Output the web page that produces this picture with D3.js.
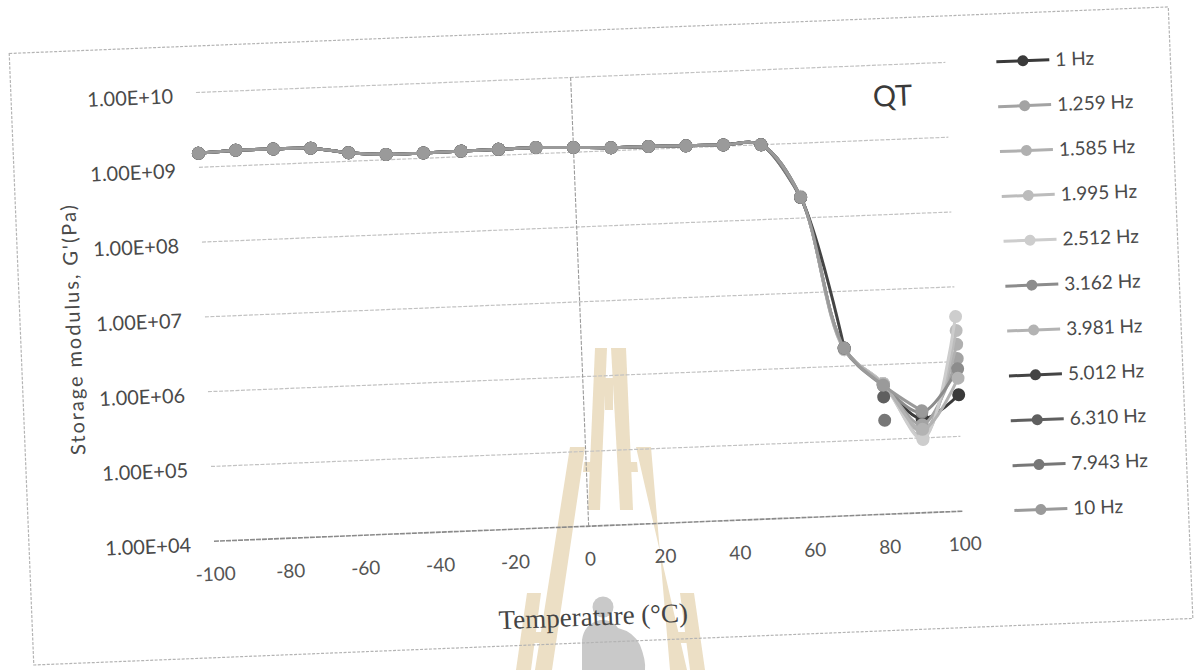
<!DOCTYPE html>
<html>
<head>
<meta charset="utf-8">
<script src="https://cdn.jsdelivr.net/npm/d3@7"></script>
<style>
  html, body { margin: 0; padding: 0; background: #fff; }
  svg { display: block; }
</style>
</head>
<body>
<svg id="chart" width="1199" height="670"></svg>
<script>
// Temperature sweep (°C)
const temps = [-100, -90, -80, -70, -60, -50, -40, -30, -20, -10, 0, 10, 20, 30, 40, 50, 60, 70, 80, 90, 100];

// Storage modulus G' (Pa) per test frequency; null = no reading
const g1Hz    = [1.54e9, 1.62e9, 1.60e9, 1.57e9, 1.30e9, 1.18e9, 1.18e9, 1.19e9, 1.20e9, 1.21e9, 1.16e9, 1.10e9, 1.09e9, 1.06e9, 1.04e9, 1.00e9, 1.90e8, 1.75e6, 5.4e5, 1.8e5, 3.6e5];
const g1259Hz = [1.54e9, 1.62e9, 1.60e9, 1.57e9, 1.30e9, 1.18e9, 1.18e9, 1.19e9, 1.20e9, 1.21e9, 1.16e9, 1.10e9, 1.09e9, 1.06e9, 1.04e9, 1.00e9, 1.90e8, 1.70e6, 5.6e5, 1.5e5, 1.1e6];
const g1585Hz = [1.54e9, 1.62e9, 1.60e9, 1.57e9, 1.30e9, 1.18e9, 1.18e9, 1.19e9, 1.20e9, 1.21e9, 1.16e9, 1.10e9, 1.09e9, 1.06e9, 1.04e9, 1.00e9, 1.92e8, 1.70e6, 5.6e5, 1.2e5, 1.7e6];
const g1995Hz = [1.54e9, 1.62e9, 1.60e9, 1.57e9, 1.30e9, 1.18e9, 1.18e9, 1.19e9, 1.20e9, 1.21e9, 1.16e9, 1.10e9, 1.09e9, 1.06e9, 1.04e9, 1.00e9, 1.92e8, 1.65e6, 5.6e5, 1.0e5, 2.6e6];
const g2512Hz = [1.54e9, 1.62e9, 1.60e9, 1.57e9, 1.30e9, 1.18e9, 1.18e9, 1.19e9, 1.20e9, 1.21e9, 1.16e9, 1.10e9, 1.09e9, 1.06e9, 1.04e9, 1.00e9, 1.95e8, 1.65e6, 5.6e5, 0.95e5, 4.0e6];
const g3162Hz = [1.54e9, 1.62e9, 1.60e9, 1.57e9, 1.30e9, 1.18e9, 1.18e9, 1.19e9, 1.20e9, 1.21e9, 1.16e9, 1.10e9, 1.09e9, 1.06e9, 1.04e9, 1.00e9, 1.90e8, 1.70e6, 5.2e5, 2.2e5, 8.0e5];
const g3981Hz = [1.54e9, 1.62e9, 1.60e9, 1.57e9, 1.30e9, 1.18e9, 1.18e9, 1.19e9, 1.20e9, 1.21e9, 1.16e9, 1.10e9, 1.09e9, 1.06e9, 1.04e9, 1.00e9, 1.90e8, 1.72e6, 5.5e5, 1.3e5, 6.0e5];
const g5012Hz = [1.54e9, 1.62e9, 1.60e9, 1.57e9, 1.30e9, 1.18e9, 1.18e9, 1.19e9, 1.20e9, 1.21e9, 1.16e9, 1.10e9, 1.09e9, 1.06e9, 1.04e9, 1.00e9, 1.88e8, 1.75e6, null, null, null];
const g6310Hz = [1.54e9, 1.62e9, 1.60e9, 1.57e9, 1.30e9, 1.18e9, 1.18e9, 1.19e9, 1.20e9, 1.21e9, 1.16e9, 1.10e9, 1.09e9, 1.06e9, 1.04e9, 1.00e9, 1.88e8, null, 3.7e5, null, null];
const g7943Hz = [1.54e9, 1.62e9, 1.60e9, 1.57e9, 1.30e9, 1.18e9, 1.18e9, 1.19e9, 1.20e9, 1.21e9, 1.16e9, 1.10e9, 1.09e9, 1.06e9, 1.04e9, 1.00e9, 1.88e8, null, 1.8e5, null, null];
const g10Hz   = [1.54e9, 1.62e9, 1.60e9, 1.57e9, 1.30e9, 1.18e9, 1.18e9, 1.19e9, 1.20e9, 1.21e9, 1.16e9, 1.10e9, 1.09e9, 1.06e9, 1.04e9, 1.00e9, 1.90e8, 1.75e6, 5.3e5, 2.3e5, null];

const seriesNames = ["1 Hz", "1.259 Hz", "1.585 Hz", "1.995 Hz", "2.512 Hz", "3.162 Hz", "3.981 Hz", "5.012 Hz", "6.310 Hz", "7.943 Hz", "10 Hz"];
const seriesValues = [g1Hz, g1259Hz, g1585Hz, g1995Hz, g2512Hz, g3162Hz, g3981Hz, g5012Hz, g6310Hz, g7943Hz, g10Hz];
const seriesColors = ["#3a3a3a", "#a3a3a3", "#b0b0b0", "#bcbcbc", "#cdcdcd", "#8c8c8c", "#b3b3b3", "#444444", "#5f5f5f", "#777777", "#9a9a9a"];

// Axis ticks
const xTicks = [-100, -80, -60, -40, -20, 0, 20, 40, 60, 80, 100];
const xTickLabels = ["-100", "-80", "-60", "-40", "-20", "0", "20", "40", "60", "80", "100"];
const yTicks = [1e4, 1e5, 1e6, 1e7, 1e8, 1e9, 1e10];
const yTickLabels = ["1.00E+04", "1.00E+05", "1.00E+06", "1.00E+07", "1.00E+08", "1.00E+09", "1.00E+10"];

const svg = d3.select("#chart");
svg.append("rect").attr("width", 1199).attr("height", 670).attr("fill", "#fff");

// ---- university seal watermark (upright, behind the chart) ----
const wm = svg.append("g").attr("fill", "#ecdfc5");
const wmPolys = [
  [[595,348],[607,348],[600,510],[588,510]],
  [[611,348],[626,348],[633,510],[620,510]],
  [[605,378],[613,378],[613,410],[605,410]],
  [[570,447],[585,447],[552,670],[535,670]],
  [[636,447],[651,447],[670,670],[687,670]],
  [[584,462],[592,462],[591,472],[583,472]],
  [[629,462],[637,462],[638,472],[630,472]],
  [[527,593],[541,593],[531,670],[516,670]],
  [[680,593],[694,593],[705,670],[690,670]],
  [[522,632],[548,632],[547,643],[521,643]],
  [[673,632],[699,632],[700,643],[674,643]]
];
wm.selectAll("polygon").data(wmPolys).join("polygon")
  .attr("points", d => d.map(p => p.join(",")).join(" "));
svg.append("circle").attr("cx", 603).attr("cy", 607).attr("r", 10.5).attr("fill", "#c9c9c9");
svg.append("path").attr("fill", "#c9c9c9")
  .attr("d", "M582,670 L582,640 Q584,624 600,620 Q612,619 618,628 Q634,632 640,645 Q646,660 645,670 Z");

// ---- chart, slightly tilted as on the scanned sheet ----
const g = svg.append("g").attr("transform", "rotate(-2.3, 600, 335)");

// sheet frame
g.append("rect")
  .attr("x", 21).attr("y", 30).attr("width", 1160).attr("height", 612)
  .attr("fill", "none").attr("stroke", "#b4b4b4").attr("stroke-width", 1.2)
  .attr("stroke-dasharray", "3 1.5");

const x = d3.scaleLinear().domain([-100, 100]).range([206, 956]);
const y = d3.scaleLog().domain([1e4, 1e10]).range([525.6, 76.5]);

// horizontal gridlines
g.append("g").selectAll("line").data(yTicks.slice(1)).join("line")
  .attr("x1", x(-100)).attr("x2", x(100))
  .attr("y1", d => y(d)).attr("y2", d => y(d))
  .attr("stroke", "#c2c2c2").attr("stroke-width", 1.2)
  .attr("stroke-dasharray", "4 1.5");

// category axis line at the bottom of the value range
g.append("line")
  .attr("x1", x(-100)).attr("x2", x(100))
  .attr("y1", y(1e4)).attr("y2", y(1e4))
  .attr("stroke", "#8a8a8a").attr("stroke-width", 1.6)
  .attr("stroke-dasharray", "5 1");

// value axis crossing at 0 °C
g.append("line")
  .attr("x1", x(0)).attr("x2", x(0))
  .attr("y1", y(1e4)).attr("y2", y(1e10))
  .attr("stroke", "#9a9a9a").attr("stroke-width", 1.1)
  .attr("stroke-dasharray", "4 1.5");

// axis labels
const xAxis = g.append("g")
  .attr("transform", `translate(0,${y(1e4)})`)
  .call(d3.axisBottom(x).tickValues(xTicks).tickFormat((d, i) => xTickLabels[i]).tickSize(0).tickPadding(26));
xAxis.select(".domain").remove();
xAxis.selectAll("text")
  .attr("font-family", "Lato, 'Noto Sans', sans-serif")
  .attr("font-size", 19).attr("fill", "#555");

const yAxis = g.append("g")
  .attr("transform", `translate(${x(-100)},0)`)
  .call(d3.axisLeft(y).tickValues(yTicks).tickFormat((d, i) => yTickLabels[i]).tickSize(0).tickPadding(23));
yAxis.select(".domain").remove();
yAxis.selectAll("text")
  .attr("y", 3)
  .attr("font-family", "Lato, 'Noto Sans', sans-serif")
  .attr("font-size", 20).attr("fill", "#4a4a4a");

// axis titles
g.append("text")
  .attr("transform", "translate(81,309) rotate(-90)")
  .attr("text-anchor", "middle")
  .attr("font-family", "Lato, 'Noto Sans', sans-serif")
  .attr("font-size", 20).attr("fill", "#4a4a4a")
  .attr("textLength", 250).attr("lengthAdjust", "spacing")
  .text("Storage  modulus, G'(Pa)");

g.append("text")
  .attr("x", 582).attr("y", 625)
  .attr("text-anchor", "middle")
  .attr("font-family", "'Liberation Serif', 'Times New Roman', serif")
  .attr("font-size", 27).attr("fill", "#444")
  .text("Temperature (°C)");

g.append("text")
  .attr("x", 902).attr("y", 118)
  .attr("text-anchor", "middle")
  .attr("font-family", "Lato, 'Noto Sans', sans-serif")
  .attr("font-size", 29).attr("fill", "#3a3a3a")
  .text("QT");

// series
const line = d3.line()
  .defined(d => d.v != null)
  .x(d => x(d.t))
  .y(d => y(d.v))
  .curve(d3.curveCatmullRom.alpha(0.5));

const plot = g.append("g");
seriesValues.forEach((vals, i) => {
  const pts = temps.map((t, k) => ({ t, v: vals[k] }));
  const sg = plot.append("g");
  sg.append("path")
    .attr("d", line(pts))
    .attr("fill", "none")
    .attr("stroke", seriesColors[i])
    .attr("stroke-width", 3);
  sg.selectAll("circle").data(pts.filter(d => d.v != null)).join("circle")
    .attr("cx", d => x(d.t)).attr("cy", d => y(d.v))
    .attr("r", 6.5)
    .attr("fill", seriesColors[i]);
});

// legend
const legend = g.append("g")
  .attr("font-family", "Lato, 'Noto Sans', sans-serif")
  .attr("font-size", 19).attr("fill", "#4a4a4a");
seriesNames.forEach((name, i) => {
  const ly = 78 + i * 44.9;
  const item = legend.append("g").attr("transform", `translate(1007,${ly})`);
  item.append("line").attr("x1", 0).attr("x2", 53).attr("y1", 0).attr("y2", 0)
    .attr("stroke", seriesColors[i]).attr("stroke-width", 3);
  item.append("circle").attr("cx", 26.5).attr("cy", 0).attr("r", 5.5)
    .attr("fill", seriesColors[i]);
  item.append("text").attr("x", 59).attr("y", 0).attr("dy", "0.35em").text(name);
});
</script>
</body>
</html>
